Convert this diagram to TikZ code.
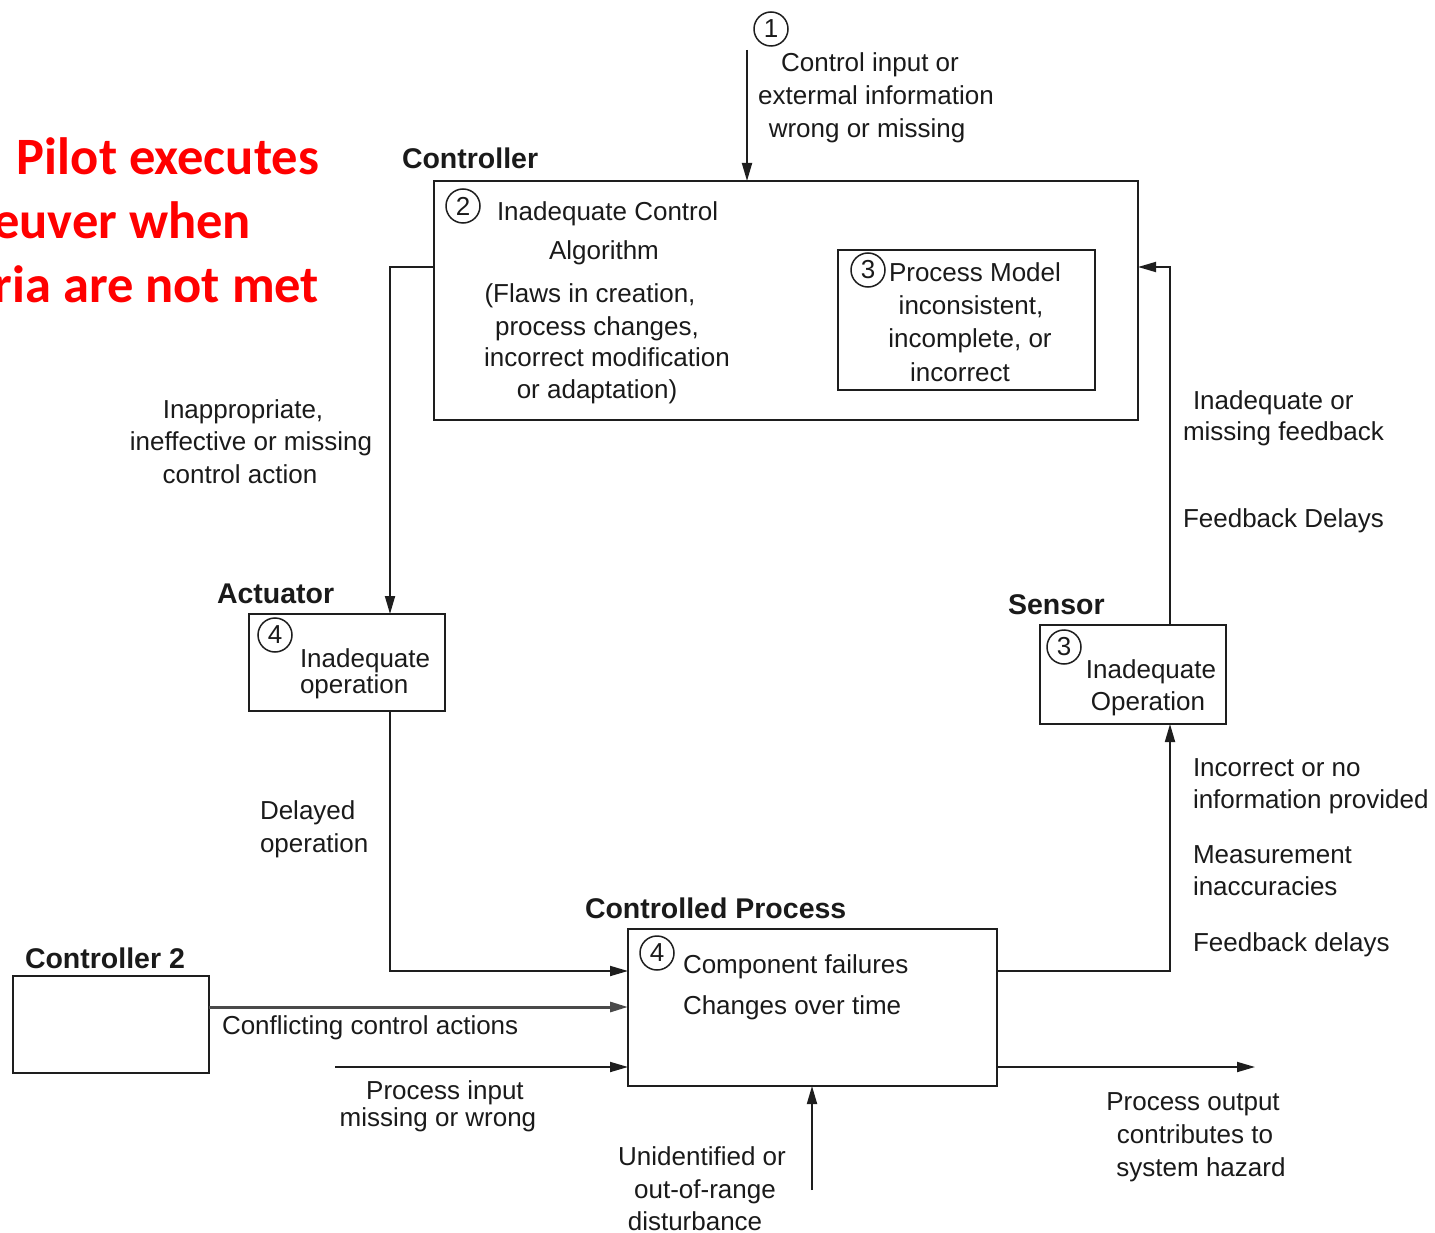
\documentclass[tikz,border=0pt]{standalone}
\usepackage{fontspec}
\setmainfont{Liberation Sans}
\newfontfamily\calib{Carlito}
\usetikzlibrary{arrows.meta,calc}
\definecolor{linec}{HTML}{1E1E1E}
\definecolor{greyline}{HTML}{4A4A4A}
\definecolor{txtc}{HTML}{1A1A1A}
\definecolor{redc}{HTML}{FF0000}
\begin{document}
\begin{tikzpicture}[x=1pt,y=-1pt,
  lbl/.style={font=\fontsize{26}{31}\selectfont, inner sep=0pt, outer sep=0pt, text=txtc},
  hdr/.style={font=\fontsize{28.5}{33}\selectfont\bfseries, inner sep=0pt, outer sep=0pt, text=txtc, anchor=base west},
  redtxt/.style={font=\calib\fontsize{52.5}{64}\selectfont\bfseries, inner sep=0pt, outer sep=0pt, text=redc, anchor=base east},
  box/.style={draw=linec, line width=2pt, inner sep=0pt, outer sep=0pt, rectangle},
  num/.style={draw=linec, circle, line width=1.5pt, minimum size=34pt, inner sep=0pt, font=\fontsize{26}{31}\selectfont, text=txtc},
  arr/.style={draw=linec, line width=1.8pt, -{Triangle[length=18pt,width=10pt]}},
]
\useasboundingbox (0,0) rectangle (1435,1233);

% red annotation
\node[redtxt] (r1) at (319,175) {Pilot executes};
\node[redtxt] (r2) at (251,239) {euver when};
\node[redtxt] (r3) at (319,303) {ria are not met};

% boxes
\node[box, minimum width=704pt, minimum height=239pt] (ctrl) at (786,300.5) {};
\node[box, minimum width=257pt, minimum height=140pt] (pm) at (966.5,320) {};
\node[box, minimum width=196pt, minimum height=97pt] (act) at (347,662.5) {};
\node[box, minimum width=369pt, minimum height=157pt] (cp) at (812.5,1007.5) {};
\node[box, line width=2.6pt, minimum width=196pt, minimum height=97pt] (ctwo) at (111,1024.5) {};
\node[box, minimum width=186pt, minimum height=99pt] (sen) at (1133,674.5) {};

% headers
\node[hdr] (hctrl) at (402,169) {Controller};
\node[hdr] (hact) at (217,603) {Actuator};
\node[hdr] (hsen) at (1008,614) {Sensor};
\node[hdr] (hcp) at (585,918) {Controlled Process};
\node[hdr] (hc2) at (25,968) {Controller 2};

% numbered circles
\node[num] (n1) at (771,29) {1};
\node[num] (n2) at (463,206) {2};
\node[num] (n3a) at (868,270) {3};
\node[num] (n4a) at (275,635) {4};
\node[num] (n3b) at (1064,647) {3};
\node[num] (n4b) at (657,953) {4};

% top input label
\node[lbl, anchor=base] (t1) at (870,72) {Control input or};
\node[lbl, anchor=base] (t2) at (876,105) {extermal information};
\node[lbl, anchor=base] (t3) at (867,138) {wrong or missing};

% controller text
\node[lbl, anchor=base west] (c1) at (497,221) {Inadequate Control};
\node[lbl, anchor=base] (c2) at (604,260) {Algorithm};
\node[lbl, anchor=base] (c3) at (590,302) {(Flaws in creation,};
\node[lbl, anchor=base] (c4) at (597,335) {process changes,};
\node[lbl, anchor=base] (c5) at (607,366) {incorrect modification};
\node[lbl, anchor=base] (c6) at (597,398) {or adaptation)};

% process model text
\node[lbl, anchor=base west] (p1) at (889,282) {Process Model};
\node[lbl, anchor=base] (p2) at (971,315) {inconsistent,};
\node[lbl, anchor=base] (p3) at (970,348) {incomplete, or};
\node[lbl, anchor=base] (p4) at (960,381) {incorrect};

% control action label
\node[lbl, anchor=base] (ca1) at (243,418) {Inappropriate,};
\node[lbl, anchor=base] (ca2) at (251,450) {ineffective or missing};
\node[lbl, anchor=base] (ca3) at (240,483) {control action};

% actuator text
\node[lbl, anchor=base west] (a1) at (300,667) {Inadequate};
\node[lbl, anchor=base west] (a2) at (300,693) {operation};
\node[lbl, anchor=base west] (d1) at (260,819) {Delayed};
\node[lbl, anchor=base west] (d2) at (260,852) {operation};

% controlled process text
\node[lbl, anchor=base west] (cp1) at (683,973) {Component failures};
\node[lbl, anchor=base west] (cp2) at (683,1014) {Changes over time};

% lower labels
\node[lbl, anchor=base west] (cf) at (222,1034) {Conflicting control actions};
\node[lbl, anchor=base] (pi1) at (445,1099) {Process input};
\node[lbl, anchor=base] (pi2) at (438,1126) {missing or wrong};
\node[lbl, anchor=base] (u1) at (702,1165) {Unidentified or};
\node[lbl, anchor=base] (u2) at (705,1198) {out-of-range};
\node[lbl, anchor=base] (u3) at (695,1230) {disturbance};
\node[lbl, anchor=base] (po1) at (1193,1110) {Process output};
\node[lbl, anchor=base] (po2) at (1195,1143) {contributes to};
\node[lbl, anchor=base] (po3) at (1201,1176) {system hazard};

% sensor text
\node[lbl, anchor=base] (s1) at (1151,678) {Inadequate};
\node[lbl, anchor=base] (s2) at (1148,710) {Operation};

% right labels
\node[lbl, anchor=base west] (f1) at (1193,409) {Inadequate or};
\node[lbl, anchor=base west] (f2) at (1183,440) {missing feedback};
\node[lbl, anchor=base west] (f3) at (1183,527) {Feedback Delays};
\node[lbl, anchor=base west] (m1) at (1193,776) {Incorrect or no};
\node[lbl, anchor=base west] (m2) at (1193,808) {information provided};
\node[lbl, anchor=base west] (m3) at (1193,863) {Measurement};
\node[lbl, anchor=base west] (m4) at (1193,895) {inaccuracies};
\node[lbl, anchor=base west] (m5) at (1193,951) {Feedback delays};

% connector end points
\coordinate (inTop) at (747,50);
\coordinate (pin) at (335,1067);
\coordinate (dist) at (812,1190);
\coordinate (pout) at (1255,1067);

% connectors
\draw[arr] (inTop) -- (inTop |- ctrl.north);
\draw[arr] (ctrl.west |- 0,267) -| (390,0 |- act.north);
\draw[arr] (390,0 |- act.south) |- (cp.west |- 0,971);
\draw[arr, draw=greyline, line width=3pt] (ctwo.east |- 0,1007) -- (cp.west |- 0,1007);
\draw[arr] (pin) -- (cp.west |- pin);
\draw[arr] (dist) -- (dist |- cp.south);
\draw[arr] (cp.east |- pout) -- (pout);
\draw[arr] (cp.east |- 0,971) -| (1170,0 |- sen.south);
\draw[arr] (1170,0 |- sen.north) |- (ctrl.east |- 0,267);
\end{tikzpicture}
\end{document}
